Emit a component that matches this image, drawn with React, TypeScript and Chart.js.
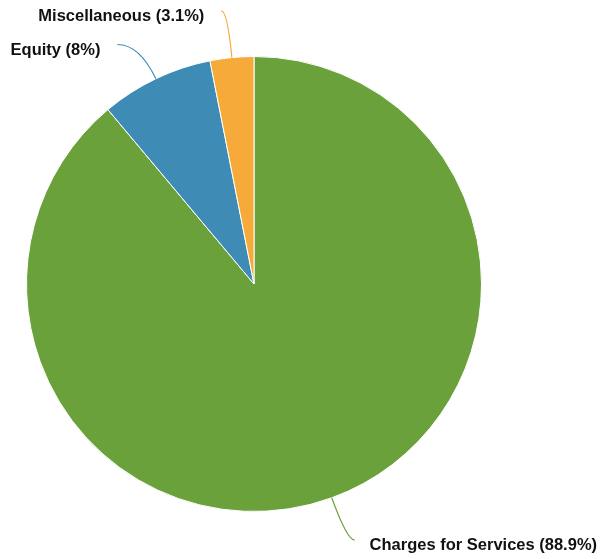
import React, { useEffect, useRef } from "react";
import { Chart, registerables } from "chart.js";

Chart.register(...registerables);

const categories = ["Charges for Services", "Equity", "Miscellaneous"];
const shares = [88.9, 8, 3.1];
const sliceColors = ["#6aa13b", "#3e8bb6", "#f6aa3a"];

// Per-slice leader-line layout: radial reach past the rim and sideways run to the label
const leaderReach = [45, 38, 47];
const leaderRun = [7.5, -22, -6];

const leaderLabels = {
  id: "leaderLabels",
  afterDatasetsDraw(chart: any) {
    const ctx = chart.ctx;
    const meta = chart.getDatasetMeta(0);
    ctx.save();
    ctx.font = 'bold 16.5px "Liberation Sans", Arial, sans-serif';
    meta.data.forEach((arc: any, i: number) => {
      const { x, y, startAngle, endAngle, outerRadius } = arc.getProps(
        ["x", "y", "startAngle", "endAngle", "outerRadius"],
        true
      );
      const mid = (startAngle + endAngle) / 2;
      const cx = Math.cos(mid);
      const cy = Math.sin(mid);
      const p0x = x + cx * outerRadius;
      const p0y = y + cy * outerRadius;
      const r2 = outerRadius + leaderReach[i];
      const kx = x + cx * r2;
      const ky = y + cy * r2;
      const ex = kx + leaderRun[i];
      const ey = ky;
      ctx.strokeStyle = sliceColors[i];
      ctx.lineWidth = 1.2;
      ctx.beginPath();
      ctx.moveTo(p0x, p0y);
      ctx.quadraticCurveTo(kx, ky, ex, ey);
      ctx.stroke();
      const right = ex >= x;
      const text = `${categories[i]} (${shares[i]}%)`;
      ctx.fillStyle = "#111";
      ctx.textBaseline = "middle";
      ctx.textAlign = right ? "left" : "right";
      ctx.fillText(text, ex + (right ? 15 : -17), ey + 5.5);
    });
    ctx.restore();
  },
};

export default function App() {
  const canvasRef = useRef<HTMLCanvasElement | null>(null);

  useEffect(() => {
    document.body.style.margin = "0";
    const canvas = canvasRef.current;
    if (!canvas) return;
    const chart = new Chart(canvas, {
      type: "pie",
      data: {
        labels: categories,
        datasets: [
          {
            data: shares,
            backgroundColor: sliceColors,
            borderColor: "#ffffff",
            borderWidth: 1,
          },
        ],
      },
      options: {
        responsive: false,
        animation: false,
        layout: { padding: { left: 26, right: 118, top: 56, bottom: 47 } },
        plugins: {
          legend: { display: false },
          tooltip: { enabled: false },
        },
      },
      plugins: [leaderLabels],
    });
    return () => chart.destroy();
  }, []);

  return (
    <div style={{ width: 600, height: 559, background: "#fff" }}>
      <canvas ref={canvasRef} width={600} height={559} />
    </div>
  );
}
